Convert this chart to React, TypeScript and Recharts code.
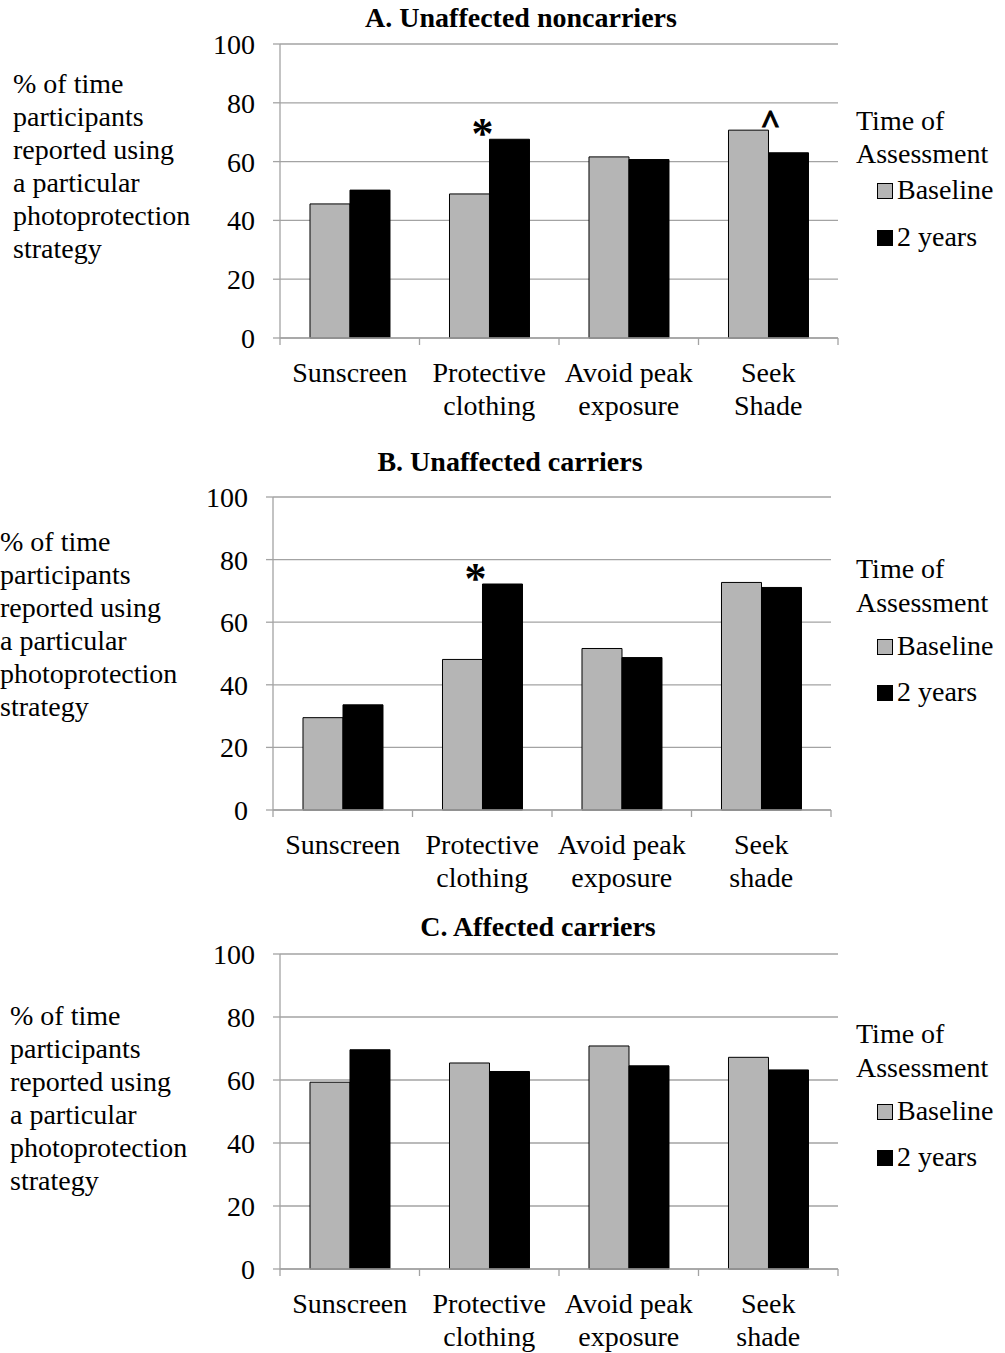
import React from "react";
import { BarChart, Bar, XAxis, YAxis, CartesianGrid, LabelList } from "recharts";

const categoriesA = ["Sunscreen", "Protective\nclothing", "Avoid peak\nexposure", "Seek\nShade"];
const categoriesBC = ["Sunscreen", "Protective\nclothing", "Avoid peak\nexposure", "Seek\nshade"];

const baselineA = [45.6, 49.0, 61.6, 70.7];
const twoYearsA = [50.3, 67.6, 60.7, 63.0];
const starA = ["", "*", "", ""];
const caretA = ["", "", "", "^"];

const baselineB = [29.5, 48.1, 51.6, 72.7];
const twoYearsB = [33.6, 72.2, 48.7, 71.1];
const starB = ["", "*", "", ""];
const caretB = ["", "", "", ""];

const baselineC = [59.3, 65.4, 70.8, 67.2];
const twoYearsC = [69.6, 62.7, 64.5, 63.2];
const starC = ["", "", "", ""];
const caretC = ["", "", "", ""];

const yTicks = [0, 20, 40, 60, 80, 100];
const seriesNames = ["Baseline", "2 years"];
const legendTitle = ["Time of", "Assessment"];
const yLabelLines = [
  "% of time",
  "participants",
  "reported using",
  "a particular",
  "photoprotection",
  "strategy",
];

const FONT = "'Liberation Serif', 'Times New Roman', serif";
const GRAY_FILL = "#b5b5b5";
const GRID = "#a3a3a3";

function buildRows(cats: string[], b: number[], t: number[], s: string[], c: string[]) {
  return cats.map((cat, i) => ({ cat, baseline: b[i], twoYears: t[i], star: s[i], caret: c[i] }));
}

const CategoryTick = (props: any) => {
  const { x, y, payload, index, bandHalf, count } = props;
  const lines = String(payload.value).split("\n");
  return (
    <g>
      <line x1={x - bandHalf} x2={x - bandHalf} y1={y} y2={y + 7} stroke={GRID} strokeWidth={1.3} />
      {index === count - 1 && (
        <line x1={x + bandHalf} x2={x + bandHalf} y1={y} y2={y + 7} stroke={GRID} strokeWidth={1.3} />
      )}
      <text x={x} y={y + 34} textAnchor="middle" dominantBaseline="central" fill="#000" fontSize={28} fontFamily={FONT}>
        {lines.map((l, i) => (
          <tspan key={i} x={x} dy={i === 0 ? 0 : 33}>
            {l}
          </tspan>
        ))}
      </text>
    </g>
  );
};

const StarLabel = (props: any) => {
  const { x, y, value } = props;
  if (!value) return null;
  return (
    <text x={x - 7} y={y + 9} textAnchor="middle" fontSize={44} fontWeight="bold" fontFamily={FONT} fill="#000">
      {value}
    </text>
  );
};

const CaretLabel = (props: any) => {
  const { x, y, width, value } = props;
  if (!value) return null;
  return (
    <text
      x={x + width + 2}
      y={y + 3}
      textAnchor="middle"
      fontSize={34}
      fontWeight="bold"
      fontFamily={FONT}
      fill="#000"
      stroke="#000"
      strokeWidth={1.2}
    >
      {value}
    </text>
  );
};

type PanelProps = {
  top: number;
  height: number;
  margin: { top: number; left: number; right: number; bottom: number };
  rows: any[];
};

function Panel({ top, height, margin, rows }: PanelProps) {
  const plotWidth = 1005 - margin.left - 80 - margin.right;
  const bandHalf = plotWidth / rows.length / 2;
  return (
    <div style={{ position: "absolute", left: 0, top }}>
      <BarChart width={1005} height={height} data={rows} margin={margin} barGap={0} barCategoryGap="21.5%">
        <CartesianGrid vertical={false} stroke={GRID} strokeWidth={1.3} />
        <XAxis
          dataKey="cat"
          height={70}
          interval={0}
          tickSize={0}
          tickMargin={0}
          tickLine={false}
          axisLine={{ stroke: GRID, strokeWidth: 1.3 }}
          tick={(p: any) => <CategoryTick {...p} bandHalf={bandHalf} count={rows.length} />}
        />
        <YAxis
          width={80}
          domain={[0, 100]}
          ticks={yTicks}
          interval={0}
          tickSize={7}
          tickMargin={18}
          axisLine={{ stroke: GRID, strokeWidth: 1.3 }}
          tickLine={{ stroke: GRID, strokeWidth: 1.3 }}
          tick={{ fill: "#000", fontSize: 28, fontFamily: FONT }}
        />
        <Bar dataKey="baseline" name={seriesNames[0]} fill={GRAY_FILL} stroke="#000" strokeWidth={1} isAnimationActive={false}>
          <LabelList dataKey="caret" content={CaretLabel} />
        </Bar>
        <Bar dataKey="twoYears" name={seriesNames[1]} fill="#000" stroke="#000" strokeWidth={1} isAnimationActive={false}>
          <LabelList dataKey="star" content={StarLabel} />
        </Bar>
      </BarChart>
    </div>
  );
}

function Title({ text, cx, cy }: { text: string; cx: number; cy: number }) {
  return (
    <div
      style={{
        position: "absolute",
        left: cx,
        top: cy - 16,
        transform: "translateX(-50%)",
        whiteSpace: "nowrap",
        fontFamily: FONT,
        fontWeight: "bold",
        fontSize: 28,
        lineHeight: "32px",
      }}
    >
      {text}
    </div>
  );
}

function YLabel({ left, firstCenter }: { left: number; firstCenter: number }) {
  return (
    <div
      style={{
        position: "absolute",
        left,
        top: firstCenter - 16.5,
        fontFamily: FONT,
        fontSize: 28,
        lineHeight: "33px",
        whiteSpace: "nowrap",
      }}
    >
      {yLabelLines.map((l, i) => (
        <div key={i}>{l}</div>
      ))}
    </div>
  );
}

function LegendBox({ c1, c2, c3, c4 }: { c1: number; c2: number; c3: number; c4: number }) {
  const textStyle: React.CSSProperties = {
    position: "absolute",
    fontFamily: FONT,
    fontSize: 28,
    lineHeight: "32px",
    whiteSpace: "nowrap",
  };
  const sq = (cy: number, fill: string) => (
    <div
      style={{
        position: "absolute",
        left: 877,
        top: cy - 7,
        width: 14,
        height: 14,
        background: fill,
        border: "1px solid #000",
      }}
    />
  );
  return (
    <>
      <div style={{ ...textStyle, left: 856, top: c1 - 16 }}>{legendTitle[0]}</div>
      <div style={{ ...textStyle, left: 856, top: c2 - 16 }}>{legendTitle[1]}</div>
      {sq(c3, GRAY_FILL)}
      <div style={{ ...textStyle, left: 897, top: c3 - 16 }}>{seriesNames[0]}</div>
      {sq(c4, "#000")}
      <div style={{ ...textStyle, left: 897, top: c4 - 16 }}>{seriesNames[1]}</div>
    </>
  );
}

export default function App() {
  const rowsA = buildRows(categoriesA, baselineA, twoYearsA, starA, caretA);
  const rowsB = buildRows(categoriesBC, baselineB, twoYearsB, starB, caretB);
  const rowsC = buildRows(categoriesBC, baselineC, twoYearsC, starC, caretC);
  return (
    <div
      style={{
        position: "absolute",
        left: 0,
        top: 0,
        width: 1005,
        height: 1353,
        background: "#fff",
        fontFamily: FONT,
        color: "#000",
        overflow: "hidden",
      }}
    >
      <Panel top={0} height={430} margin={{ top: 44, left: 200, right: 167, bottom: 22 }} rows={rowsA} />
      <Panel top={430} height={472} margin={{ top: 67, left: 193, right: 174, bottom: 22 }} rows={rowsB} />
      <Panel top={902} height={451} margin={{ top: 52, left: 200, right: 167, bottom: 14 }} rows={rowsC} />

      <Title text="A. Unaffected noncarriers" cx={521} cy={18} />
      <Title text="B. Unaffected carriers" cx={510} cy={462} />
      <Title text="C. Affected carriers" cx={538} cy={927} />

      <YLabel left={13} firstCenter={83} />
      <YLabel left={0} firstCenter={541} />
      <YLabel left={10} firstCenter={1015} />

      <LegendBox c1={121} c2={154} c3={190} c4={237} />
      <LegendBox c1={569} c2={603} c3={646} c4={692} />
      <LegendBox c1={1034} c2={1068} c3={1111} c4={1157} />
    </div>
  );
}
